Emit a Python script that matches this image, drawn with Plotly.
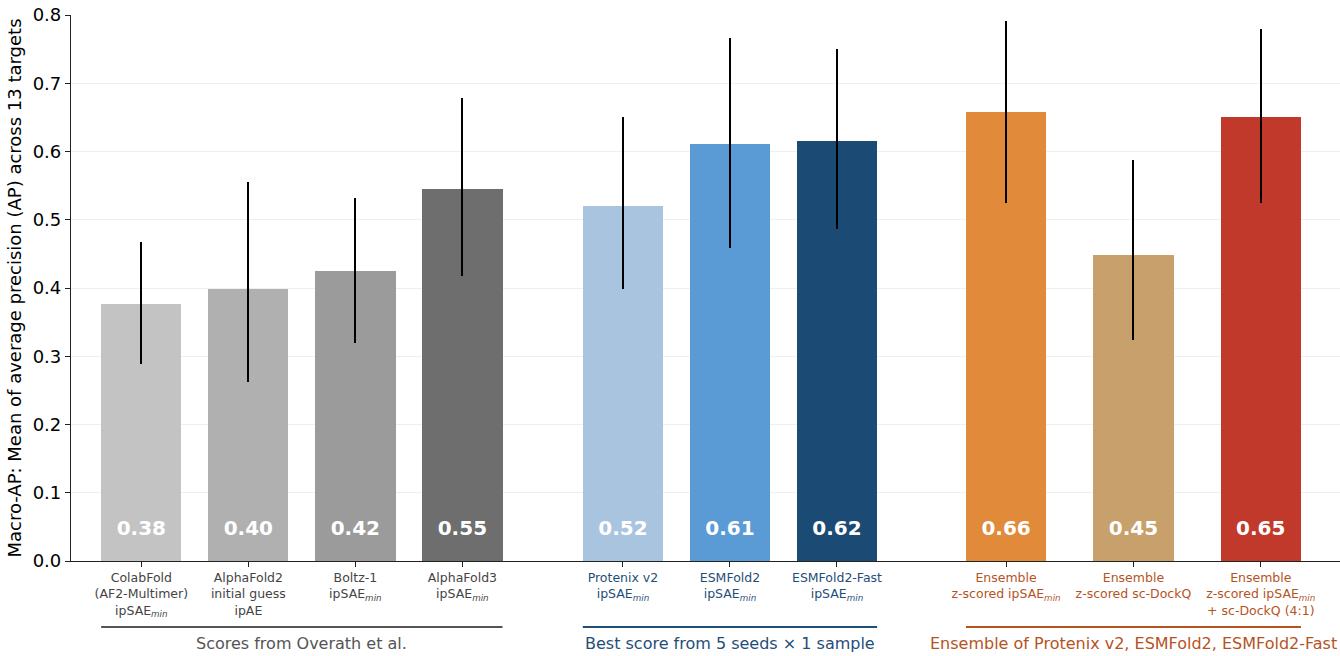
import plotly.graph_objects as go

# bar labels (tick text), one per bar
labels = [
    "ColabFold<br>(AF2-Multimer)<br>ipSAE<sub><i>min</i></sub>",
    "AlphaFold2<br>initial guess<br>ipAE",
    "Boltz-1<br>ipSAE<sub><i>min</i></sub>",
    "AlphaFold3<br>ipSAE<sub><i>min</i></sub>",
    "Protenix v2<br>ipSAE<sub><i>min</i></sub>",
    "ESMFold2<br>ipSAE<sub><i>min</i></sub>",
    "ESMFold2-Fast<br>ipSAE<sub><i>min</i></sub>",
    "Ensemble<br>z-scored ipSAE<sub><i>min</i></sub>",
    "Ensemble<br>z-scored sc-DockQ",
    "Ensemble<br>z-scored ipSAE<sub><i>min</i></sub><br>+ sc-DockQ (4:1)",
]
macro_ap = [0.376, 0.398, 0.425, 0.545, 0.520, 0.611, 0.616, 0.658, 0.449, 0.651]
ci_high = [0.467, 0.555, 0.532, 0.679, 0.650, 0.767, 0.750, 0.791, 0.587, 0.779]
ci_low = [0.289, 0.262, 0.320, 0.418, 0.399, 0.459, 0.486, 0.525, 0.324, 0.524]

group_names = [
    "Scores from Overath et al.",
    "Best score from 5 seeds × 1 sample",
    "Ensemble of Protenix v2, ESMFold2, ESMFold2-Fast",
]
group_sizes = [4, 3, 3]

bar_colors = ["#c3c3c3", "#b0b0b0", "#9b9b9b", "#6e6e6e",
              "#a9c4de", "#5b9bd5", "#1b4a74",
              "#e08a3a", "#c8a06c", "#c0392b"]
group_colors = ["#555555", "#1f4e79", "#b5531e"]
tick_group_colors = ["#444444", "#1f4e79", "#b5531e"]

# x layout: group start and spacing between bars
group_start = [0.0, 4.5, 8.08]
group_step = [1.0, 1.0, 1.19]
bar_w = 0.75

xs, tick_colors = [], []
for g, n in enumerate(group_sizes):
    for i in range(n):
        xs.append(group_start[g] + i * group_step[g])
        tick_colors.append(tick_group_colors[g])

ticktext = [f'<span style="color:{c}">{t}</span>' for t, c in zip(labels, tick_colors)]

fig = go.Figure()
fig.add_trace(go.Bar(
    x=xs, y=macro_ap, width=bar_w,
    marker=dict(color=bar_colors, line=dict(width=0)),
    error_y=dict(type="data", symmetric=False,
                 array=[h - v for h, v in zip(ci_high, macro_ap)],
                 arrayminus=[v - l for v, l in zip(macro_ap, ci_low)],
                 color="black", thickness=2, width=0),
    showlegend=False, hoverinfo="skip",
))

# value labels inside bars
fig.add_trace(go.Scatter(
    x=xs, y=[0.046] * len(xs), mode="text",
    text=[f"{v:.2f}" for v in macro_ap],
    textfont=dict(family="DejaVu Sans", size=20, color="white", weight="bold"),
    showlegend=False, hoverinfo="skip",
))

# group underline and label
idx = 0
for g, n in enumerate(group_sizes):
    x0 = xs[idx] - bar_w / 2
    x1 = xs[idx + n - 1] + bar_w / 2
    fig.add_shape(type="line", xref="x", yref="paper", x0=x0, x1=x1,
                  y0=-0.121, y1=-0.121, line=dict(color=group_colors[g], width=2))
    fig.add_annotation(x=(x0 + x1) / 2, y=-0.152, xref="x", yref="paper",
                       text=group_names[g], showarrow=False, yanchor="middle",
                       font=dict(family="DejaVu Sans", size=16, color=group_colors[g]))
    idx += n

fig.update_layout(
    width=1340, height=656,
    margin=dict(l=71, r=0, t=15, b=95),
    paper_bgcolor="white", plot_bgcolor="white",
    font=dict(family="DejaVu Sans", color="black"),
    bargap=0,
)
fig.update_xaxes(
    range=[-0.657, 11.2],
    tickmode="array", tickvals=xs, ticktext=ticktext,
    tickfont=dict(size=12.5, color="#444444"),
    ticks="outside", ticklen=5, tickcolor="#222222",
    showline=True, linecolor="#222222", linewidth=1.2,
    showgrid=False, zeroline=False,
)
fig.update_yaxes(
    range=[0, 0.8], dtick=0.1, tickformat=".1f",
    tickfont=dict(size=18),
    ticks="outside", ticklen=5, tickcolor="#222222",
    showline=True, linecolor="#222222", linewidth=1.2,
    showgrid=True, gridcolor="#efefef", gridwidth=1, zeroline=False,
    title=dict(text="Macro-AP: Mean of average precision (AP) across 13 targets",
               font=dict(size=18), standoff=6),
)

fig.write_html("out.html", config={"displayModeBar": False},
               post_script="document.body.style.margin='0';")
